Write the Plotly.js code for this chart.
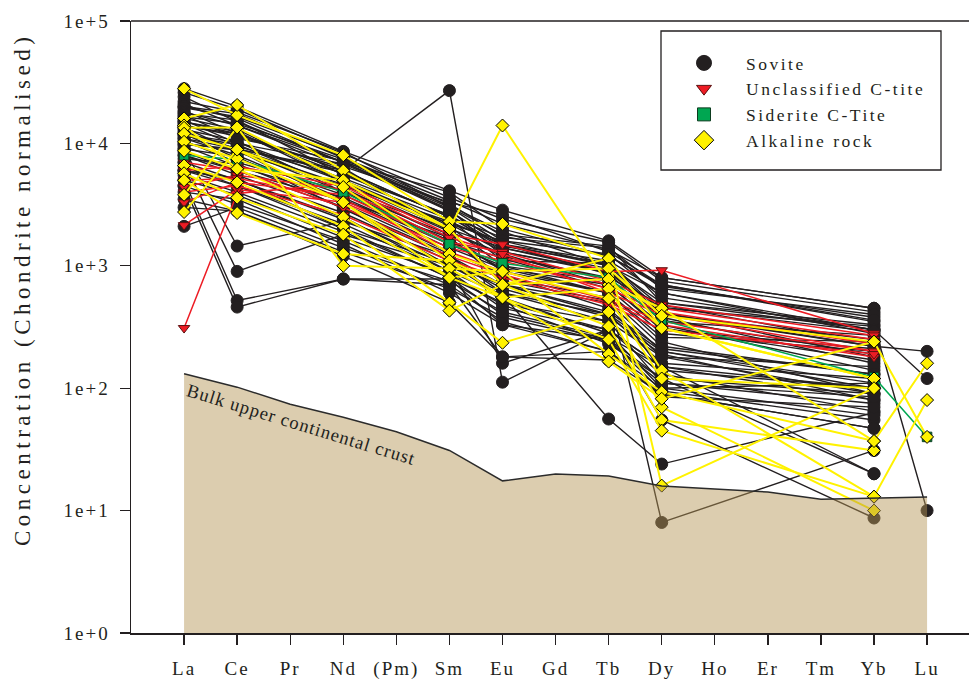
<!DOCTYPE html>
<html>
<head>
<meta charset="utf-8">
<script src="https://cdn.plot.ly/plotly-3.0.1.min.js"></script>
<style>
  html, body { margin: 0; padding: 0; background: #fff; }
  #chart { width: 969px; height: 682px; }
  .xtick text, .ytick text { letter-spacing: 2px; }
  .legendtext { letter-spacing: 2.5px; }
  .annotation[data-index="0"] .annotation-text { letter-spacing: 1px; }
  .annotation[data-index="1"] .annotation-text { letter-spacing: 4.5px; }
</style>
</head>
<body>
<div id="chart"></div>
<script>
// ---- categories / tick labels ----
const elements = ['La','Ce','Pr','Nd','(Pm)','Sm','Eu','Gd','Tb','Dy','Ho','Er','Tm','Yb','Lu'];
const sampled  = ['La','Ce','Nd','Sm','Eu','Tb','Dy','Yb','Lu'];
const yTickVals = [1, 10, 100, 1000, 10000, 100000];
const yTickText = ['1e+0','1e+1','1e+2','1e+3','1e+4','1e+5'];
const legendNames = ['Sovite','Unclassified C-tite','Siderite C-Tite','Alkaline rock'];

// ---- bulk upper continental crust (chondrite normalised) ----
const crust = [131, 102, 74, 58, 44, 31, 17.5, 19.9, 19.2, 15.9, 15, 14.2, 12.4, 12.7, 12.9];

// ---- samples: values at La, Ce, Nd, Sm, Eu, Tb, Dy, Yb, Lu ----
const sovite = [
  [28000, 20000, 8600, 4100, 2850, 1600, 800, 450, null],
  [26000, 19000, 8200, 3600, 2400, 1550, 750, 420, null],
  [24000, 15000, 7000, 4000, 2000, 1200, 680, 380, null],
  [22000, 18000, 8500, 3000, 1800, 1450, 500, 300, null],
  [21000, 14000, 6500, 3300, 2600, 1300, 700, 350, null],
  [20000, 16000, 7000, 3000, 1600, 1000, 500, 330, 10],
  [20000, 17500, 7600, 3400, 2200, 1350, 800, 450, null],
  [19500, 16500, 7800, 2800, 1500, 1100, 600, 280, null],
  [18500, 12000, 6000, 2500, 1700, 1400, 650, 400, null],
  [18000, 14000, 7000, 2800, 1500, 1000, 600, 300, 120],
  [17500, 15500, 5500, 2600, 1300, 900, 450, 320, null],
  [17000, 11000, 7200, 3100, 1900, 1000, 400, 250, null],
  [16500, 14500, 7400, 3200, 1750, 1200, 700, 360, null],
  [16000, 13000, 5000, 2200, 1600, 1250, 550, 300, null],
  [15500, 10000, 6800, 2900, 1200, 800, 480, 230, null],
  [15000, 12000, 6000, 2500, 1400, 900, 400, 220, 200],
  [15000, 12500, 4800, 2000, 1400, 950, 350, 270, null],
  [14500, 9500, 5200, 2400, 1100, 1050, 420, 180, null],
  [14000, 11500, 6300, 1900, 1250, 700, 300, 210, null],
  [13800, 12000, 5600, 2600, 1450, 1050, 460, 290, null],
  [13500, 8500, 4500, 2300, 1500, 850, 380, 160, null],
  [13000, 10500, 4000, 1800, 900, 600, 260, 240, null],
  [12500, 9000, 5800, 2100, 1000, 750, 330, 140, null],
  [12000, 9000, 4000, 1600, 950, 600, 8, 31, null],
  [12000, 7500, 3800, 1600, 1150, 650, 280, 200, null],
  [11800, 10200, 4900, 2200, 1300, 880, 410, 220, null],
  [11500, 9800, 4300, 1700, 800, 550, 220, 130, null],
  [11000, 9000, 6000, 27000, 112, 300, 150, 80, null],
  [11000, 8000, 3500, 1400, 950, 700, 310, 170, null],
  [10500, 7000, 4100, 2000, 700, 500, 200, 110, null],
  [10000, 8800, 3200, 1300, 850, 450, 180, 150, null],
  [9800, 9000, 4600, 1900, 1200, 780, 360, 190, null],
  [9500, 6500, 3600, 1500, 1000, 600, 240, 90, null],
  [9000, 1450, 2300, 1200, 700, 400, 200, 100, null],
  [9000, 7800, 2900, 1200, 600, 400, 160, 120, null],
  [8500, 6000, 3400, 1700, 750, 520, 140, 100, null],
  [8000, 6000, 3000, 1000, 160, 300, 150, 20, null],
  [8000, 5500, 2700, 1100, 650, 380, 190, 80, null],
  [7500, 6800, 3000, 1250, 500, 350, 110, 75, null],
  [7000, 900, 1800, 1000, 600, 350, 180, 90, null],
  [7000, 5000, 2400, 1000, 700, 420, 210, 130, null],
  [6500, 4500, 2200, 900, 450, 300, 130, 65, null],
  [6000, 5000, 2500, 900, 580, 56, 24, 63, null],
  [6000, 5200, 2000, 1050, 550, 280, 100, 110, null],
  [6000, 4500, 2000, 800, 500, 300, 55, 8.7, null],
  [5500, 4000, 1900, 800, 400, 250, 95, 55, null],
  [5000, 520, 780, 780, 330, 200, 100, 60, null],
  [5000, 3800, 1700, 850, 480, 230, 120, 90, null],
  [4500, 460, 780, 700, 180, 170, 90, 47, null],
  [4500, 3200, 1600, 700, 350, 200, 85, 70, null],
  [4000, 3500, 1500, 600, 330, 250, 120, 20, null],
  [3500, 2800, 1300, 650, 380, 240, 110, 85, null],
  [3000, 2800, 1200, 500, 180, 200, 90, 47, null],
  [2100, 3000, 1400, 750, 420, 260, 150, 100, null]
];
const unclassified = [
  [310, 3900, 4700, 1800, 1500, 900, 920, 280, null],
  [4400, 5500, 4200, 1560, 1300, 750, 480, 270, null],
  [3300, 4800, 3800, 1500, 1170, 700, 450, 250, null],
  [2150, 4200, 3300, 1400, 1100, 650, 420, 230, null],
  [6000, 6500, 4500, 1700, 1250, 600, 400, 200, null],
  [5000, 5200, 3500, 1300, 900, 525, 350, 200, null],
  [7000, 6000, 3000, 1200, 850, 500, 330, 180, null],
  [4000, 4500, 2600, 1100, 800, 480, 300, 190, null]
];
const siderite = [
  [8000, 7400, 4000, 1500, 1050, 800, 360, 123, 40]
];
const alkaline = [
  [28000, 17000, 8000, 2300, 2200, 1150, 16, 100, null],
  [16000, 20600, 6000, 2000, 14000, 700, 450, 37, 160],
  [14000, 6200, 5000, 2000, 700, 1150, 310, 120, null],
  [13400, 13500, 5000, 1250, 900, 950, 390, 240, 40],
  [12000, 8900, 4400, 1100, 700, 780, 310, 120, null],
  [10300, 7500, 3300, 950, 550, 650, 140, 13, 80],
  [8700, 6200, 2500, 800, 900, 540, 120, 100, null],
  [6600, 4800, 2100, 500, 235, 420, 70, 10, null],
  [5700, 3600, 1800, 430, 700, 320, 55, 31, null],
  [5000, 2700, 1250, 1100, 550, 250, 45, 13, null],
  [3800, 13500, 1000, 950, 900, 190, 93, 37, null],
  [2750, 8900, 3300, 800, 550, 165, 82, 240, null]
];

// ---- styles ----
const BLACK = '#231f20', RED = '#ed1c24', GREEN = '#00a651', YELLOW = '#fff200';
const groups = [
  {data: sovite,       line: BLACK,  lw: 1.4, sym: 'circle',        size: 12,  lsize: 15, fill: BLACK,  out: BLACK},
  {data: unclassified, line: RED,    lw: 1.5, sym: 'triangle-down', size: 10,  lsize: 13, fill: RED,    out: '#5a1010'},
  {data: siderite,     line: GREEN,  lw: 1.5, sym: 'square',        size: 9.5, lsize: 13, fill: GREEN,  out: '#0d3b1f'},
  {data: alkaline,     line: YELLOW, lw: 2,   sym: 'diamond',       size: 10,  lsize: 15, fill: YELLOW, out: '#000000'}
];

const traces = [];
groups.forEach(g => {
  g.data.forEach(vals => {
    const x = [], y = [];
    vals.forEach((v, i) => { if (v !== null) { x.push(sampled[i]); y.push(v); } });
    traces.push({
      type: 'scatter', mode: 'lines+markers', x: x, y: y,
      line: {color: g.line, width: g.lw},
      marker: {symbol: g.sym, size: g.size, color: g.fill, line: {color: g.out, width: 1}},
      showlegend: false, hoverinfo: 'skip'
    });
  });
});

// crust fill drawn on top, semi transparent
traces.push({
  type: 'scatter', mode: 'lines', x: elements, y: elements.map(() => 1),
  line: {width: 0, color: 'rgba(0,0,0,0)'}, showlegend: false, hoverinfo: 'skip'
});
traces.push({
  type: 'scatter', mode: 'lines', x: elements, y: crust,
  fill: 'tonexty', fillcolor: 'rgba(181,149,85,0.47)',
  line: {color: '#2b2b2b', width: 1.5}, showlegend: false, hoverinfo: 'skip'
});

// legend-only entries
groups.forEach((g, i) => {
  traces.push({
    type: 'scatter', mode: 'markers', x: [null], y: [null], name: legendNames[i],
    marker: {symbol: g.sym, size: g.lsize, color: g.fill, line: {color: g.out, width: 1}},
    showlegend: true, hoverinfo: 'skip'
  });
});

const W = 969, H = 682;
const mL = 131, mR = 0, mT = 21, mB = 49;
const pw = W - mL - mR, ph = H - mT - mB;
const px2paperX = px => (px - mL) / pw;
const px2paperY = py => (H - mB - py) / ph;

const serif = "'Liberation Serif', 'Times New Roman', Times, serif";

const layout = {
  width: W, height: H,
  margin: {l: mL, r: mR, t: mT, b: mB, pad: 0},
  paper_bgcolor: '#ffffff', plot_bgcolor: '#ffffff',
  font: {family: serif, color: BLACK, size: 19},
  showlegend: true,
  xaxis: {
    type: 'category', categoryorder: 'array', categoryarray: elements,
    range: [-1, 14.79],
    showgrid: false, zeroline: false,
    showline: true, linecolor: BLACK, linewidth: 1.5,
    ticks: 'outside', ticklen: 10, tickwidth: 1.3, tickcolor: BLACK,
    tickfont: {family: serif, size: 19, color: BLACK},
    ticklabelstandoff: 8
  },
  yaxis: {
    type: 'log', range: [0, 5],
    tickvals: yTickVals, ticktext: yTickText,
    showgrid: false, zeroline: false,
    showline: true, linecolor: BLACK, linewidth: 1.5,
    ticks: 'outside', ticklen: 10, tickwidth: 1.3, tickcolor: BLACK,
    tickfont: {family: serif, size: 19, color: BLACK},
    ticklabelstandoff: 6
  },
  legend: {
    x: px2paperX(662), y: px2paperY(45), xanchor: 'left', yanchor: 'top',
    bgcolor: 'rgba(0,0,0,0)', borderwidth: 0,
    font: {family: serif, size: 17.5, color: BLACK},
    itemwidth: 74,
    traceorder: 'normal'
  },
  shapes: [
    {type: 'line', xref: 'paper', yref: 'paper', x0: 0, x1: 1, y0: 1, y1: 1,
     line: {color: BLACK, width: 1.5}},
    {type: 'rect', xref: 'paper', yref: 'paper',
     x0: px2paperX(661), x1: px2paperX(941), y0: px2paperY(170), y1: px2paperY(31),
     line: {color: BLACK, width: 1.3}, fillcolor: 'rgba(255,255,255,0)', layer: 'above'}
  ],
  annotations: [
    {text: 'Bulk upper continental crust', x: 2.22, y: 1.70, xref: 'x', yref: 'y',
     showarrow: false, textangle: 17, font: {family: serif, size: 18.5, color: BLACK}},
    {text: 'Concentration (Chondrite normalised)', xref: 'paper', yref: 'paper',
     x: px2paperX(22), y: px2paperY(290), xanchor: 'center', yanchor: 'middle',
     showarrow: false, textangle: -90, font: {family: serif, size: 23, color: BLACK}}
  ]
};

Plotly.newPlot('chart', traces, layout, {staticPlot: true, displayModeBar: false});
</script>
</body>
</html>
